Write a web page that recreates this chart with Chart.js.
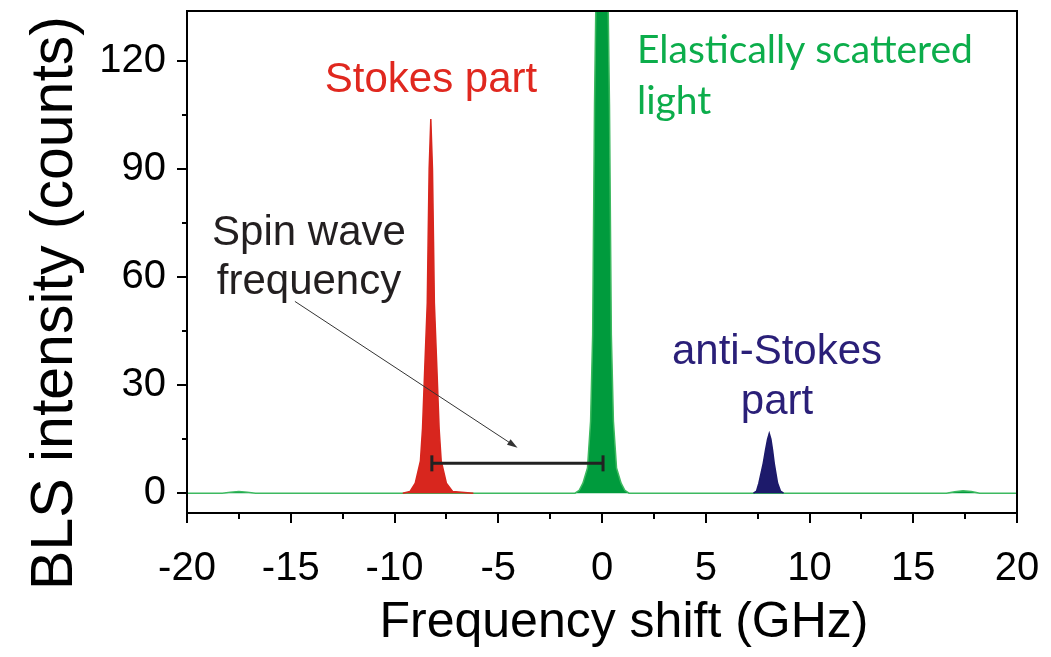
<!DOCTYPE html>
<html>
<head>
<meta charset="utf-8">
<script src="https://cdn.jsdelivr.net/npm/chart.js@4.4.0/dist/chart.umd.min.js"></script>
<style>
  html, body { margin: 0; padding: 0; background: #fff; }
</style>
</head>
<body>
<canvas id="bls" width="1051" height="657"></canvas>
<script>
// ==========================
//  DATA
// ==========================
const freqElastic   = [-20, -18.3, -17.9, -17.5, -17.1, -16.7, -1.3, -1.1, -0.92, -0.7, -0.55, -0.45, -0.36, -0.3, -0.2, -0.1, 0, 0.1, 0.2, 0.3, 0.36, 0.45, 0.55, 0.7, 0.92, 1.1, 1.3, 16.6, 17.0, 17.4, 17.8, 18.2, 20];
const countsElastic = [0, 0, 0.3, 0.5, 0.3, 0, 0, 0.8, 2.8, 7, 20, 44, 108, 134, 260, 500, 700, 500, 260, 134, 108, 44, 20, 7, 2.8, 0.8, 0, 0, 0.4, 0.7, 0.5, 0, 0];

const freqStokes   = [-9.6, -9.25, -9.0, -8.75, -8.65, -8.54, -8.42, -8.38, -8.33, -8.25, -8.17, -8.12, -8.08, -7.96, -7.85, -7.75, -7.5, -7.2, -6.2];
const countsStokes = [0, 0.5, 2.8, 9, 18, 35, 53, 70, 90, 104, 90, 70, 53, 35, 18, 9, 2.8, 0.5, 0];

const freqAnti   = [7.3, 7.45, 7.56, 7.77, 7.88, 7.98, 8.06, 8.14, 8.22, 8.3, 8.46, 8.6, 8.75];
const countsAnti = [0, 0.6, 2.8, 8.3, 12, 15, 16.6, 15, 12, 8.3, 2.8, 0.6, 0];

// spin wave frequency bracket: from Stokes peak to elastic peak
const bracketFreq   = [-8.2, 0.05];
const bracketCounts = [8.3, 8.3];

// arrow pointing at the bracket [freq, counts]
const arrowFrom = [-14.8, 53.3];
const arrowTo   = [-4.07, 12.6];

const xTicks = [-20, -15, -10, -5, 0, 5, 10, 15, 20];
const xMinor = [-17.5, -12.5, -7.5, -2.5, 2.5, 7.5, 12.5, 17.5];
const yTicks = [0, 30, 60, 90, 120];
const yMinor = [15, 45, 75, 105];

const pts = (xs, ys) => xs.map((x, i) => ({ x: x, y: ys[i] }));

// ==========================
//  DECORATION PLUGIN
// ==========================
const FONT = '"Liberation Sans", Arial, sans-serif';

const decor = {
  id: 'decor',
  afterDraw(chart) {
    const { ctx, chartArea: a, scales: { x, y } } = chart;
    ctx.save();
    ctx.strokeStyle = '#000';
    ctx.lineWidth = 2;
    ctx.strokeRect(a.left, a.top, a.right - a.left, a.bottom - a.top);

    // tick marks (outside)
    ctx.beginPath();
    yTicks.forEach(v => { const p = Math.round(y.getPixelForValue(v)); ctx.moveTo(a.left - 10, p); ctx.lineTo(a.left, p); });
    yMinor.forEach(v => { const p = Math.round(y.getPixelForValue(v)); ctx.moveTo(a.left - 5, p); ctx.lineTo(a.left, p); });
    xTicks.forEach(v => { const p = Math.round(x.getPixelForValue(v)); ctx.moveTo(p, a.bottom); ctx.lineTo(p, a.bottom + 10); });
    xMinor.forEach(v => { const p = Math.round(x.getPixelForValue(v)); ctx.moveTo(p, a.bottom); ctx.lineTo(p, a.bottom + 6); });
    ctx.stroke();

    // axis titles
    ctx.fillStyle = '#000';
    ctx.textAlign = 'center';
    ctx.textBaseline = 'middle';
    ctx.font = '50px ' + FONT;
    ctx.fillText('Frequency shift (GHz)', 624, 623);
    ctx.save();
    ctx.translate(56, 303);
    ctx.rotate(-Math.PI / 2);
    ctx.font = '59px ' + FONT;
    ctx.fillText('BLS intensity (counts)', 0, 0);
    ctx.restore();

    // labels
    ctx.font = '42px ' + FONT;
    ctx.fillStyle = '#e0281f';
    ctx.fillText('Stokes part', 431, 80);
    ctx.fillStyle = '#231f20';
    ctx.fillText('Spin wave', 309, 233);
    ctx.fillText('frequency', 309, 282);
    ctx.fillStyle = '#2a1f78';
    ctx.fillText('anti-Stokes', 777, 352);
    ctx.fillText('part', 777, 402);
    ctx.fillStyle = '#0cad4b';
    ctx.textAlign = 'left';
    ctx.font = '39px Lato, "Open Sans", sans-serif';
    ctx.fillText('Elastically scattered', 637, 50);
    ctx.fillText('light', 637, 101);

    // arrow
    const x0 = x.getPixelForValue(arrowFrom[0]), y0 = y.getPixelForValue(arrowFrom[1]);
    const x1 = x.getPixelForValue(arrowTo[0]),   y1 = y.getPixelForValue(arrowTo[1]);
    const ang = Math.atan2(y1 - y0, x1 - x0);
    ctx.strokeStyle = '#333';
    ctx.lineWidth = 1;
    ctx.beginPath();
    ctx.moveTo(x0, y0);
    ctx.lineTo(x1 - 6 * Math.cos(ang), y1 - 6 * Math.sin(ang));
    ctx.stroke();
    ctx.fillStyle = '#333';
    ctx.beginPath();
    ctx.moveTo(x1, y1);
    ctx.lineTo(x1 - 11 * Math.cos(ang - 0.3), y1 - 11 * Math.sin(ang - 0.3));
    ctx.lineTo(x1 - 11 * Math.cos(ang + 0.3), y1 - 11 * Math.sin(ang + 0.3));
    ctx.closePath();
    ctx.fill();
    ctx.restore();
  }
};

// ==========================
//  CHART
// ==========================
new Chart(document.getElementById('bls'), {
  type: 'line',
  data: {
    datasets: [
      {
        label: 'bracket',
        data: pts(bracketFreq, bracketCounts),
        borderColor: '#222',
        borderWidth: 3,
        pointStyle: 'line',
        pointRotation: 90,
        pointRadius: 8,
        pointBorderWidth: 3,
        pointBorderColor: '#222',
        fill: false,
        order: 0
      },
      {
        label: 'Stokes',
        data: pts(freqStokes, countsStokes),
        borderColor: '#d8261e',
        backgroundColor: '#d8261e',
        borderWidth: 1.5,
        pointRadius: 0,
        fill: 'origin',
        order: 1
      },
      {
        label: 'anti-Stokes',
        data: pts(freqAnti, countsAnti),
        borderColor: '#1d1a6b',
        backgroundColor: '#1d1a6b',
        borderWidth: 1.5,
        pointRadius: 0,
        fill: 'origin',
        order: 1
      },
      {
        label: 'Elastic',
        data: pts(freqElastic, countsElastic),
        borderColor: '#3db960',
        backgroundColor: '#009b3d',
        borderWidth: 1.5,
        pointRadius: 0,
        fill: 'origin',
        order: 3
      }
    ]
  },
  options: {
    responsive: false,
    animation: false,
    devicePixelRatio: 1,
    layout: { padding: { top: 7, right: 34, bottom: 0, left: 0 } },
    plugins: { legend: { display: false }, tooltip: { enabled: false } },
    elements: { line: { tension: 0 } },
    scales: {
      x: {
        type: 'linear',
        min: -20,
        max: 20,
        afterBuildTicks: s => { s.ticks = xTicks.map(v => ({ value: v })); },
        afterFit: s => { s.height = 144; s.paddingLeft = 0; s.paddingRight = 0; },
        grid: { display: false, drawTicks: true, tickLength: 10 },
        border: { display: false },
        ticks: { color: '#000', font: { family: FONT, size: 40 }, padding: 22, maxRotation: 0, autoSkip: false }
      },
      y: {
        type: 'linear',
        min: -5.5,
        max: 134,
        afterBuildTicks: s => { s.ticks = yTicks.map(v => ({ value: v })); },
        afterFit: s => { s.width = 187; s.paddingTop = 0; s.paddingBottom = 0; },
        grid: { display: false, drawTicks: true, tickLength: 10 },
        border: { display: false },
        ticks: { color: '#000', font: { family: FONT, size: 40 }, padding: 11 }
      }
    }
  },
  plugins: [decor]
});
</script>
</body>
</html>
